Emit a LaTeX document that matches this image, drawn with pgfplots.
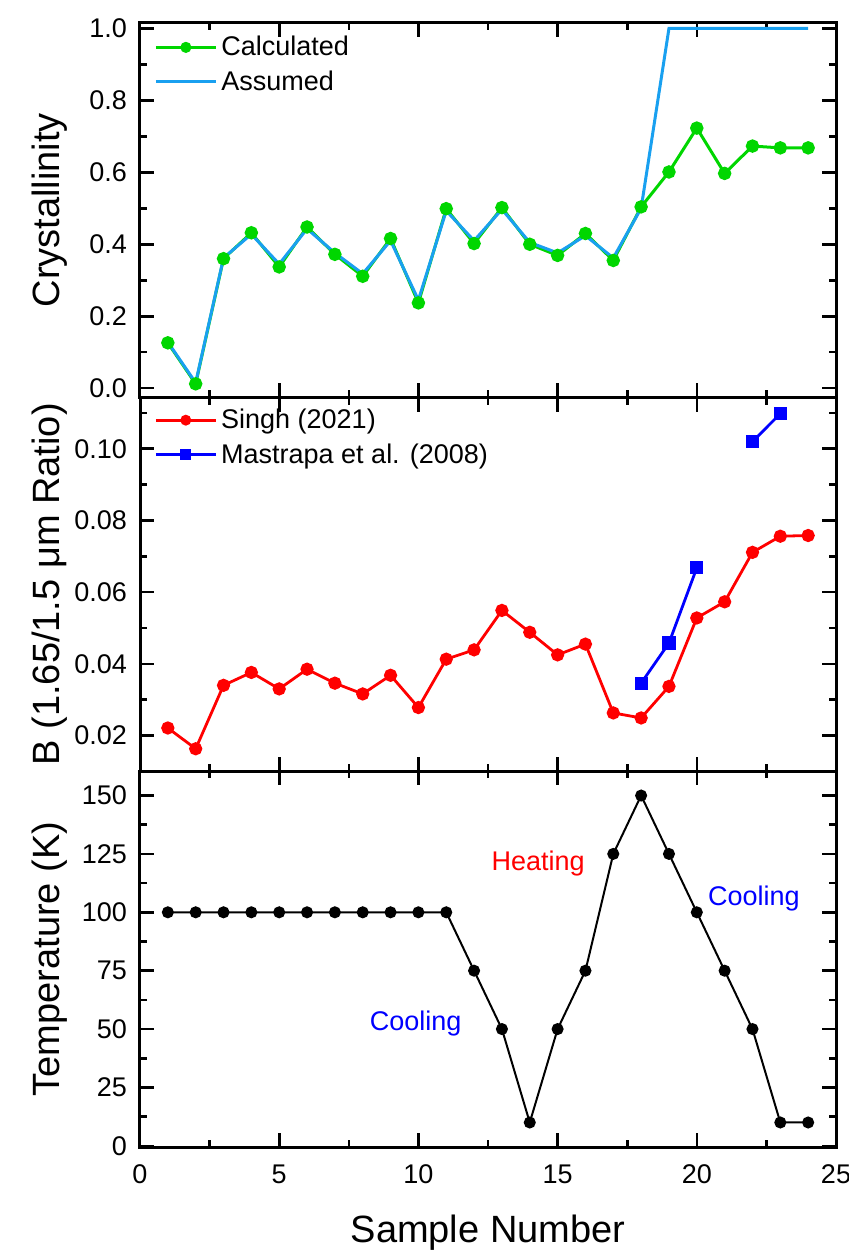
\documentclass[border=0pt]{standalone}
\usepackage{fontspec}
\setmainfont{Liberation Sans}
\usepackage{pgfplots}
\pgfplotsset{compat=1.18}
\definecolor{cgreen}{RGB}{0,214,0}
\definecolor{cblue}{RGB}{25,160,240}
\definecolor{cred}{RGB}{255,0,0}
\definecolor{cdblue}{RGB}{0,0,255}
\pgfplotsset{
  base/.style={
    scale only axis, width=348pt,
    xmin=0, xmax=25, xtick={0,5,10,15,20,25}, minor x tick num=1,
    tick align=inside, major tick length=7pt, minor tick length=3.5pt,
    axis line style={line width=1.5pt},
    every tick/.style={black, line width=1.3pt},
    tick label style={font=\fontsize{13.5}{13.5}\selectfont},
    yticklabel style={xshift=-3pt},
    label style={font=\fontsize{19}{19}\selectfont},
    /pgf/number format/assume math mode=true,
    ylabel style={at={(axis description cs:-0.13,0.5)}, anchor=center},
    legend style={draw=none, fill=none, at={(axis description cs:0,1)}, anchor=north west,
      xshift=4pt, yshift=-2.5pt, font=\fontsize{13.5}{16}\selectfont, row sep=2pt},
    legend cell align=left,
    legend image code/.code={\draw[mark repeat=2,mark phase=2,#1,mark size=2pt] plot coordinates {(0pt,0pt) (15pt,0pt) (30pt,0pt)};},
  }
}
\begin{document}
\begin{tikzpicture}
\useasboundingbox (0,0) rectangle (424.5pt,-625.5pt);
% Panel 1
\begin{axis}[base, at={(70pt,-11.35pt)}, anchor=north west, height=187.4pt,
  ymin=-0.026, ymax=1.016, ytick={0,0.2,0.4,0.6,0.8,1.0}, minor y tick num=1,
  yticklabel style={/pgf/number format/fixed, /pgf/number format/fixed zerofill, /pgf/number format/precision=1},
  xticklabels={}, ylabel={Crystallinity}]
\addplot[cgreen, line width=1.5pt, mark=*, mark size=2.6pt] coordinates {
(1,0.126) (2,0.012) (3,0.360) (4,0.432) (5,0.337) (6,0.448) (7,0.372) (8,0.311)
(9,0.416) (10,0.237) (11,0.499) (12,0.402) (13,0.502) (14,0.400) (15,0.369) (16,0.430)
(17,0.355) (18,0.504) (19,0.601) (20,0.723) (21,0.597) (22,0.673) (23,0.668) (24,0.668)};
\addlegendentry{Calculated}
\addplot[cblue, line width=1.5pt] coordinates {
(1,0.128) (2,0.015) (3,0.362) (4,0.428) (5,0.345) (6,0.443) (7,0.376) (8,0.318)
(9,0.410) (10,0.245) (11,0.493) (12,0.410) (13,0.497) (14,0.405) (15,0.376) (16,0.424)
(17,0.362) (18,0.500) (19,1.0) (20,1.0) (21,1.0) (22,1.0) (23,1.0) (24,1.0)};
\addlegendentry{Assumed}
\end{axis}
% Panel 2
\begin{axis}[base, at={(70pt,-198.75pt)}, anchor=north west, height=186.75pt,
  ymin=0.0101, ymax=0.1143, ytick={0.02,0.04,0.06,0.08,0.10},
  minor ytick={0.03,0.05,0.07,0.09,0.11}, scaled y ticks=false,
  yticklabel style={/pgf/number format/fixed, /pgf/number format/fixed zerofill, /pgf/number format/precision=2},
  xticklabels={}, ylabel={B (1.65/1.5 μm Ratio)}, unbounded coords=jump,
  legend style={yshift=1pt}]
\addplot[cred, line width=1.4pt, mark=*, mark size=2.6pt] coordinates {
(1,0.0221) (2,0.0163) (3,0.0340) (4,0.0376) (5,0.0330) (6,0.0385) (7,0.0346) (8,0.0316)
(9,0.0368) (10,0.0278) (11,0.0413) (12,0.0439) (13,0.0549) (14,0.0488) (15,0.0425) (16,0.0455)
(17,0.0263) (18,0.0249) (19,0.0337) (20,0.0528) (21,0.0573) (22,0.0711) (23,0.0756) (24,0.0758)};
\addlegendentry{Singh (2021)}
\addplot[cdblue, line width=1.4pt, mark=square*, mark size=2.6pt] coordinates {
(18,0.0346) (19,0.0458) (20,0.0668) (21,nan) (22,0.1020) (23,0.1098)};
\addlegendentry{Mastrapa et al. (2008)}
\end{axis}
% Panel 3
\begin{axis}[base, at={(70pt,-385.5pt)}, anchor=north west, height=188pt,
  ymin=-0.5, ymax=160.5, ytick={0,25,50,75,100,125,150}, minor y tick num=1,
  ylabel={Temperature (K)}, xlabel={Sample Number},
  xticklabel style={yshift=-5.5pt},
  xlabel style={at={(axis description cs:0.5,-0.229)}, anchor=center}]
\addplot[black, line width=1pt, mark=*, mark size=2.5pt] coordinates {
(1,100) (2,100) (3,100) (4,100) (5,100) (6,100) (7,100) (8,100) (9,100) (10,100) (11,100)
(12,75) (13,50) (14,10) (15,50) (16,75) (17,125) (18,150) (19,125) (20,100) (21,75)
(22,50) (23,10) (24,10)};
\node[text=cred, font=\fontsize{13.5}{13.5}\selectfont] at (axis cs:14.3,121) {Heating};
\node[text=cdblue, font=\fontsize{13.5}{13.5}\selectfont] at (axis cs:22.05,106) {Cooling};
\node[text=cdblue, font=\fontsize{13.5}{13.5}\selectfont] at (axis cs:9.9,52.5) {Cooling};
\end{axis}
\end{tikzpicture}
\end{document}
